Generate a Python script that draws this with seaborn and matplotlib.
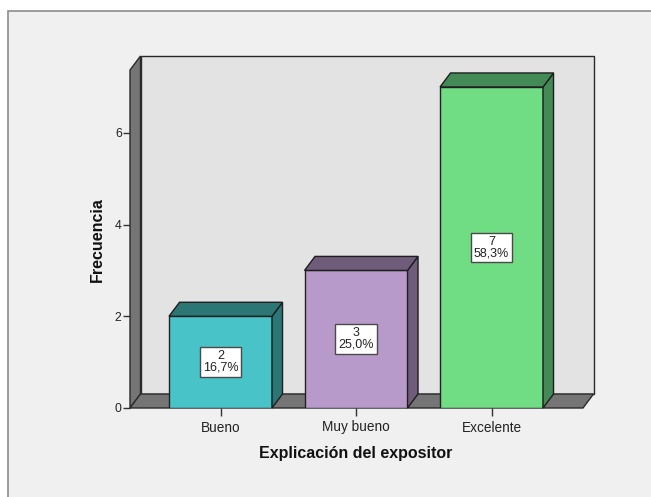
import matplotlib
matplotlib.use("Agg")
import matplotlib.pyplot as plt
from matplotlib.patches import Polygon, Rectangle
import seaborn as sns
import pandas as pd

# Frequency table
categories = ["Bueno", "Muy bueno", "Excelente"]
counts = [2, 3, 7]
front_colors = ["#48c3c8", "#b89aca", "#70dc84"]
shade_colors = ["#2c7776", "#6f5c7b", "#438a56"]
y_ticks = [0, 2, 4, 6]

total = sum(counts)
df = pd.DataFrame({"cat": categories, "n": counts})

sns.set_style("white")
plt.rcParams["font.family"] = ["Liberation Sans", "DejaVu Sans"]

W, H = 651, 497
fig = plt.figure(figsize=(W / 100, H / 100), dpi=100, facecolor="white")

# Light grey chart panel with a thin border on the top and left
panel = Rectangle((8 / W, -0.01), 1.0, (H - 11) / H + 0.01, transform=fig.transFigure,
                  facecolor="#f0f0f0", edgecolor="#8c8c8c", linewidth=1.2, zorder=-5)
fig.patches.append(panel)

L, R, T, B = 130, 583, 70, 408
ax = fig.add_axes([L / W, (H - B) / H, (R - L) / W, (B - T) / H])
ax.patch.set_alpha(0)

sns.barplot(data=df, x="cat", y="n", hue="cat", palette=front_colors, order=categories,
            hue_order=categories, width=0.76, saturation=1, edgecolor="#222222", linewidth=1.0,
            legend=False, ax=ax, zorder=3)

xmin, xmax = -0.668, 2.675
ymin, ymax = 0, 7.37
ax.set_xlim(xmin, xmax)
ax.set_ylim(ymin, ymax)

# depth offset of the 3D effect, converted from pixels to data units
dx = 10.5 * (xmax - xmin) / (R - L)
dy = 14.0 * (ymax - ymin) / (B - T)

edge = "#2a2a2a"
# back wall
ax.add_patch(Polygon([(xmin + dx, ymin + dy), (xmax + dx, ymin + dy), (xmax + dx, ymax + dy),
                      (xmin + dx, ymax + dy)], closed=True, facecolor="#e3e3e3",
                     edgecolor=edge, linewidth=1.0, clip_on=False, zorder=0))
# left side wall
ax.add_patch(Polygon([(xmin, ymin), (xmin, ymax), (xmin + dx, ymax + dy), (xmin + dx, ymin + dy)],
                     closed=True, facecolor="#757575", edgecolor=edge, linewidth=1.0,
                     clip_on=False, zorder=1))
# floor
ax.add_patch(Polygon([(xmin, ymin), (xmax, ymin), (xmax + dx, ymin + dy), (xmin + dx, ymin + dy)],
                     closed=True, facecolor="#757575", edgecolor=edge, linewidth=1.0,
                     clip_on=False, zorder=1))

# bar side and top faces, and the value labels
for bar, shade, n in zip(ax.patches, shade_colors, counts):
    if not hasattr(bar, "get_x"):
        continue
    x0 = bar.get_x()
    x1 = x0 + bar.get_width()
    h = bar.get_height()
    ax.add_patch(Polygon([(x1, 0), (x1, h), (x1 + dx, h + dy), (x1 + dx, dy)], closed=True,
                         facecolor=shade, edgecolor="#1e1e1e", linewidth=1.0, clip_on=False, zorder=3))
    ax.add_patch(Polygon([(x0, h), (x1, h), (x1 + dx, h + dy), (x0 + dx, h + dy)], closed=True,
                         facecolor=shade, edgecolor="#1e1e1e", linewidth=1.0, clip_on=False, zorder=3))
    pct = f"{100 * n / total:.1f}%".replace(".", ",")
    ax.text((x0 + x1) / 2, h / 2, f"{n}\n{pct}", ha="center", va="center", fontsize=9,
            color="#222222", linespacing=0.95, zorder=5,
            bbox=dict(boxstyle="square,pad=0.25", facecolor="white", edgecolor="#4a4a4a", linewidth=1.0))

for s in ax.spines.values():
    s.set_visible(False)

ax.set_yticks(y_ticks)
ax.set_yticklabels([str(t) for t in y_ticks])
ax.tick_params(axis="y", direction="out", length=5, width=1, color="#333333", pad=1,
               labelsize=8.8, labelcolor="#222222", left=True)
ax.tick_params(axis="x", direction="out", length=6, width=1, color="#333333", pad=3,
               labelsize=9.8, labelcolor="#222222", bottom=True)

ax.set_xlabel("Explicación del expositor", fontsize=11.5, fontweight="bold", color="#111111")
ax.set_ylabel("Frecuencia", fontsize=11.5, fontweight="bold", color="#111111")
ax.xaxis.set_label_coords(0.499, -0.113)
ax.yaxis.set_label_coords(-0.055, 0.497)

fig.savefig("out.png", dpi=100, facecolor="white")
